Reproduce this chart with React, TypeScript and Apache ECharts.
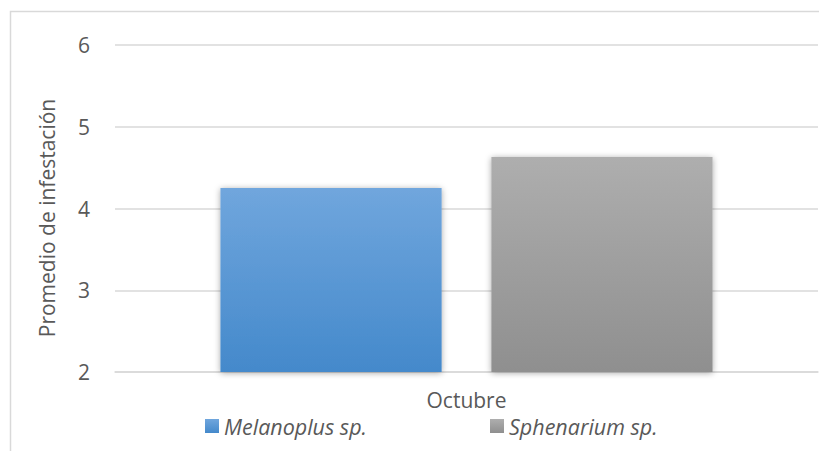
import React, { useEffect, useRef } from "react";
import * as echarts from "echarts";

const categories = ["Octubre"];
const seriesNames = ["Melanoplus sp.", "Sphenarium sp."];
const melanoplus = [4.25];
const sphenarium = [4.63];
const yTicks = { min: 2, max: 6, interval: 1 };
const yAxisTitle = "Promedio de infestación";

const FONT = "Open Sans";
const TEXT = "#595959";

function grad(top: string, bottom: string) {
  return new echarts.graphic.LinearGradient(0, 0, 0, 1, [
    { offset: 0, color: top },
    { offset: 1, color: bottom },
  ]);
}

export default function App() {
  const ref = useRef<HTMLDivElement>(null);
  useEffect(() => {
    if (!ref.current) return;
    const chart = echarts.init(ref.current, undefined, { renderer: "svg" });
    const barStyle = (top: string, bottom: string) => ({
      color: grad(top, bottom),
      shadowBlur: 6,
      shadowColor: "rgba(0,0,0,0.35)",
      shadowOffsetY: 1,
    });
    const legendText = { fontFamily: FONT, fontSize: 21.5, fontStyle: "italic", color: TEXT };
    chart.setOption({
      animation: false,
      graphic: [
        {
          type: "rect",
          shape: { x: 10.5, y: 11.5, width: 900, height: 600 },
          style: { fill: "none", stroke: "#d9d9d9", lineWidth: 1.5 },
          silent: true,
        },
        {
          type: "text",
          x: 47,
          y: 218,
          rotation: Math.PI / 2,
          style: {
            text: yAxisTitle,
            fill: TEXT,
            font: `21px "${FONT}"`,
            align: "center",
            verticalAlign: "middle",
          },
        },
      ],
      grid: { left: 115, right: 1, top: 45, bottom: 79, containLabel: false },
      legend: [
        {
          data: [seriesNames[0]],
          left: 205,
          top: 415,
          padding: 0,
          itemWidth: 14,
          itemHeight: 14,
          itemGap: 6,
          textStyle: legendText,
          icon: "rect",
        },
        {
          data: [seriesNames[1]],
          left: 490,
          top: 415,
          padding: 0,
          itemWidth: 14,
          itemHeight: 14,
          textStyle: legendText,
          icon: "rect",
        },
      ],
      xAxis: {
        type: "category",
        data: categories,
        axisLine: { lineStyle: { color: "#d9d9d9", width: 1.5 } },
        axisTick: { show: false },
        axisLabel: { color: TEXT, fontFamily: FONT, fontSize: 21, margin: 17 },
      },
      yAxis: {
        type: "value",
        min: yTicks.min,
        max: yTicks.max,
        interval: yTicks.interval,
        axisLine: { show: false },
        axisTick: { show: false },
        axisLabel: { color: TEXT, fontFamily: FONT, fontSize: 21, margin: 25 },
        splitLine: { lineStyle: { color: "#d9d9d9", width: 1.5 } },
      },
      series: [
        {
          name: seriesNames[0],
          type: "bar",
          data: melanoplus,
          barCategoryGap: "30%",
          barGap: "22.5%",
          itemStyle: barStyle("#70a6dd", "#4489cb"),
        },
        {
          name: seriesNames[1],
          type: "bar",
          data: sphenarium,
          barCategoryGap: "30%",
          barGap: "22.5%",
          itemStyle: barStyle("#aeaeae", "#8f8f8f"),
        },
      ],
    });
    return () => chart.dispose();
  }, []);
  return (
    <div
      ref={ref}
      style={{ position: "fixed", left: 0, top: 0, width: 819, height: 451, background: "#fff" }}
    />
  );
}
